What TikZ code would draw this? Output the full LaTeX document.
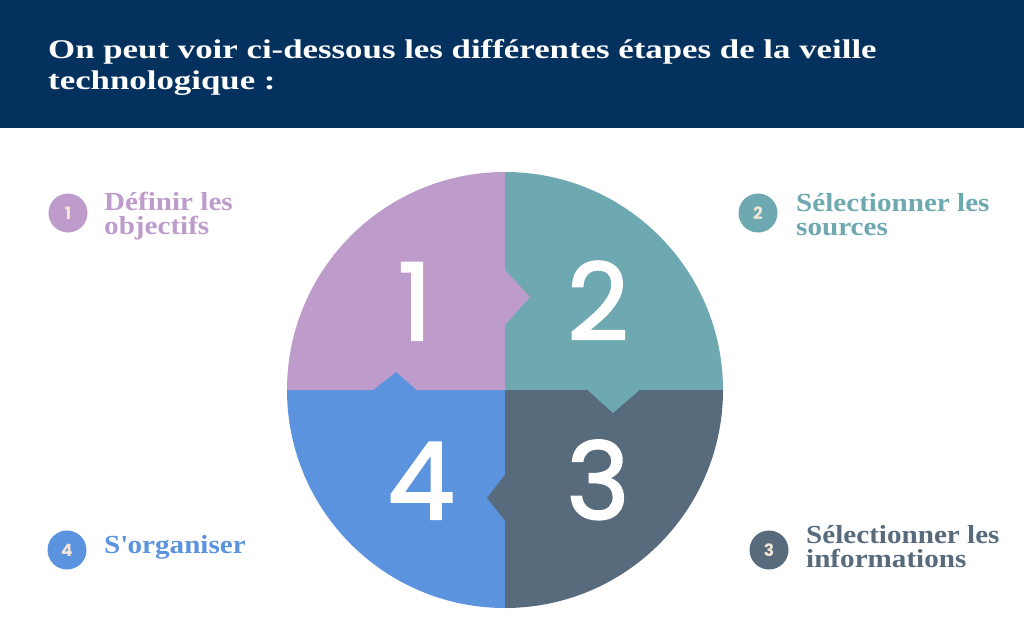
\documentclass[tikz,border=0pt]{standalone}
\usepackage{fontspec}
\setmainfont{Liberation Serif}
\newfontfamily\titlefont{Liberation Serif}[FakeStretch=1.29]
\newfontfamily\lblfont{Liberation Serif}[FakeStretch=1.12]
\newfontfamily\popfont{Poppins}
\newfontfamily\bigfont{Poppins}[FakeBold=2]
\definecolor{navy}{HTML}{05315F}
\definecolor{pinkc}{HTML}{BD9CCB}
\definecolor{tealc}{HTML}{6EA8B0}
\definecolor{slatec}{HTML}{586B7D}
\definecolor{bluec}{HTML}{5B93DF}
\definecolor{cream}{HTML}{F2E6D6}
\begin{document}
\begin{tikzpicture}[x=1pt,y=-1pt,
  titletxt/.style={anchor=base west, inner sep=0pt, text=white, text height=20pt, text depth=7pt, font=\titlefont\fontsize{27}{27}\selectfont\bfseries},
  lbl/.style={anchor=base west, inner sep=0pt, text height=17pt, text depth=5pt, font=\lblfont\fontsize{26}{26}\selectfont\bfseries},
  big/.style={anchor=base, inner sep=0pt, text=white, font=\bigfont\fontsize{107}{107}\selectfont},
  dot/.style={circle, minimum size=39pt, inner sep=0pt, text=cream, font=\popfont\bfseries\fontsize{17}{17}\selectfont}]
\useasboundingbox[fill=white] (0,0) rectangle (1024,639);
\fill[navy] (0,0) rectangle (1024,128);
\node[titletxt] (t1) at (48,59) {On peut voir ci-dessous les différentes étapes de la veille};
\node[titletxt] (t2) at (48,90) {technologique :};
% puzzle circle
\begin{scope}
  \clip (505,390) circle[radius=218pt];
  \fill[pinkc] (505,390) rectangle (280,165);
  \fill[tealc] (505,390) rectangle (730,165);
  \fill[slatec] (505,390) rectangle (730,615);
  \fill[bluec] (505,390) rectangle (280,615);
\end{scope}
\fill[pinkc] (505,270) -- (530,297) -- (505,325) -- cycle;
\fill[bluec] (373,390.5) -- (396,372) -- (417,390.5) -- cycle;
\fill[tealc] (587,389.5) -- (613,413) -- (640,389.5) -- cycle;
\fill[slatec] (505.5,474) -- (487,498) -- (505.5,521) -- cycle;
\node[big] (n1) at (415,340) {1};
\node[big] (n2) at (598,340) {2};
\node[big] (n3) at (598,519) {3};
\node[big] (n4) at (421,519) {4};
% legend
\node[dot, fill=pinkc] (d1) at (68,213) {1};
\node[dot, fill=tealc] (d2) at (758,213) {2};
\node[dot, fill=slatec] (d3) at (769,550) {3};
\node[dot, fill=bluec] (d4) at (67,550) {4};
\node[lbl, text=pinkc] (l1a) at (104,210) {Définir les};
\node[lbl, text=pinkc] (l1b) at (104,234) {objectifs};
\node[lbl, text=tealc] (l2a) at (796,211) {Sélectionner les};
\node[lbl, text=tealc] (l2b) at (796,235) {sources};
\node[lbl, text=slatec] (l3a) at (806,543) {Sélectionner les};
\node[lbl, text=slatec] (l3b) at (806,567) {informations};
\node[lbl, text=bluec] (l4) at (104,553) {S\textquotesingle organiser};
\end{tikzpicture}
\end{document}
